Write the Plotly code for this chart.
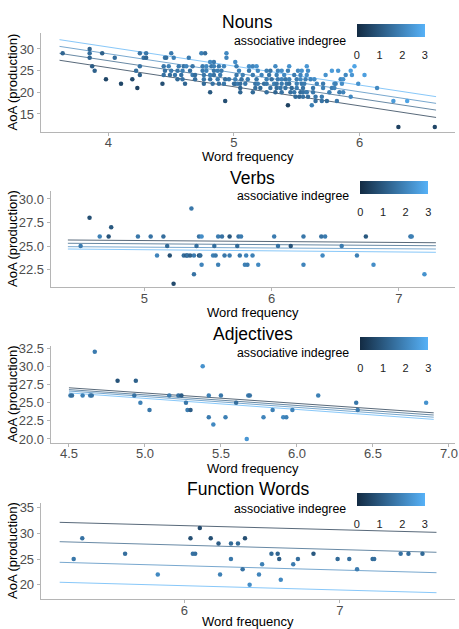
import plotly.graph_objects as go

# ---------------- data ----------------
# Nouns
nouns_freq = [3.85,
              3.635, 3.85, 3.95, 4.25, 4.30, 4.50, 4.74, 4.77, 4.94,
              3.85, 4.05, 4.28, 4.30, 4.45, 4.46, 4.52, 4.64, 4.94,
              4.81, 4.84, 5.01,
              3.87, 4.25, 4.44, 4.48, 4.56, 4.60, 4.62, 4.67, 4.75, 4.78, 4.82, 4.84, 4.88, 4.92, 5.02, 5.12, 5.15, 5.18, 5.33, 5.44, 5.58, 5.96,
              3.89, 4.22, 4.45, 4.50, 4.55, 4.59, 4.65, 4.75, 4.78, 4.84, 4.87, 4.90, 5.04, 5.12, 5.19, 5.26, 5.29, 5.35, 5.38, 5.43, 5.51, 5.54, 5.59, 5.78, 5.83, 5.93,
              4.25, 4.44, 4.49, 4.53, 4.58, 4.67, 4.69, 4.76, 4.81, 4.84, 4.89, 5.02, 5.07, 5.15, 5.22, 5.28, 5.34, 5.40, 5.48, 5.53, 5.58, 5.73, 5.89, 5.94, 6.04,
              3.98, 4.19, 4.55, 4.59, 4.69, 4.76, 4.81, 4.87, 4.93, 4.96, 5.01, 5.06, 5.11, 5.18, 5.26, 5.30, 5.35, 5.38, 5.41, 5.44, 5.50, 5.53, 5.57, 5.61, 5.64, 5.85, 5.87,
              4.10, 4.43, 4.61, 4.76, 4.83, 4.88, 4.92, 5.00, 5.01, 5.03, 5.05, 5.09, 5.17, 5.19, 5.24, 5.26, 5.32, 5.34, 5.38, 5.42, 5.44, 5.50, 5.54, 5.56, 5.66, 5.71, 5.80, 5.81, 5.86, 5.99,
              4.23, 5.05, 5.17, 5.21, 5.29, 5.34, 5.37, 5.41, 5.46, 5.50, 5.55, 5.63, 5.71, 5.78, 5.80, 6.14,
              4.81, 5.05, 5.15, 5.26, 5.33, 5.38, 5.45, 5.48, 5.53, 5.55, 5.58, 5.63, 5.76, 5.84, 5.87,
              5.49, 5.52, 5.55, 5.59, 5.65, 5.70, 5.93,
              4.93, 5.65, 5.70, 5.74, 5.82, 6.27, 6.38,
              5.43, 5.62,
              6.31, 6.60]
nouns_aoa = [30,
             29, 29, 29, 29, 29, 29, 29, 29, 29,
             28, 28, 28, 28, 28, 28, 28, 28, 28,
             27, 27, 27,
             26, 26, 26, 26, 26, 26, 26, 26, 26, 26, 26, 26, 26, 26, 26, 26, 26, 26, 26, 26, 26, 26,
             25, 25, 25, 25, 25, 25, 25, 25, 25, 25, 25, 25, 25, 25, 25, 25, 25, 25, 25, 25, 25, 25, 25, 25, 25, 25,
             24, 24, 24, 24, 24, 24, 24, 24, 24, 24, 24, 24, 24, 24, 24, 24, 24, 24, 24, 24, 24, 24, 24, 24, 24,
             23, 23, 23, 23, 23, 23, 23, 23, 23, 23, 23, 23, 23, 23, 23, 23, 23, 23, 23, 23, 23, 23, 23, 23, 23, 23, 23,
             22, 22, 22, 22, 22, 22, 22, 22, 22, 22, 22, 22, 22, 22, 22, 22, 22, 22, 22, 22, 22, 22, 22, 22, 22, 22, 22, 22, 22, 22,
             21, 21, 21, 21, 21, 21, 21, 21, 21, 21, 21, 21, 21, 21, 21, 21,
             20, 20, 20, 20, 20, 20, 20, 20, 20, 20, 20, 20, 20, 20, 20,
             19, 19, 19, 19, 19, 19, 19,
             18, 18, 18, 18, 18, 18, 18,
             17, 17,
             12, 12]
nouns_indeg = [1.3,
               1.3, 1.5, 1.2, 1.6, 1.7, 1.8, 1.9, 1.5, 2.1,
               1.3, 1.5, 1.6, 1.3, 1.7, 1.5, 1.9, 1.8, 2.0,
               2.1, 1.8, 2.2,
               1.1, 1.6, 1.7, 1.9, 1.8, 1.6, 2.0, 1.7, 1.8, 2.1, 1.7, 1.9, 1.8, 2.0, 1.9, 2.2, 2.0, 2.3, 2.1, 2.3, 2.4, 2.7,
               1.2, 1.5, 1.6, 1.8, 1.7, 1.9, 1.6, 1.8, 2.0, 1.7, 1.9, 1.8, 2.0, 1.8, 2.1, 1.9, 1.7, 2.0, 2.2, 1.9, 2.1, 2.3, 2.2, 2.5, 2.4, 2.6,
               1.2, 1.6, 1.5, 1.7, 1.6, 1.8, 1.5, 1.7, 1.9, 1.6, 1.8, 1.7, 1.9, 1.8, 2.0, 1.7, 1.9, 2.1, 1.8, 2.0, 2.2, 2.3, 2.1, 2.4, 2.6,
               0.6, 0.7, 1.4, 1.6, 1.5, 1.7, 1.6, 1.8, 1.5, 1.7, 1.9, 1.6, 1.8, 1.7, 1.9, 1.6, 1.8, 2.0, 1.7, 1.9, 1.8, 2.1, 1.9, 2.0, 2.2, 2.1, 2.3,
               0.6, 0.8, 1.3, 1.4, 1.6, 1.5, 1.7, 1.6, 1.4, 1.8, 1.5, 1.7, 1.6, 1.8, 1.5, 1.7, 1.9, 1.6, 1.8, 1.7, 1.5, 1.9, 1.7, 1.8, 2.0, 1.8, 2.1, 1.9, 2.2, 2.3,
               0.5, 1.3, 1.5, 1.4, 1.6, 1.5, 1.7, 1.6, 1.4, 1.8, 1.6, 1.7, 1.9, 1.8, 2.0, 2.1,
               1.0, 1.3, 1.4, 1.5, 1.3, 1.6, 1.5, 1.7, 1.4, 1.6, 1.8, 1.7, 1.9, 1.8, 2.0,
               1.4, 1.3, 1.6, 1.5, 1.7, 1.8, 2.1,
               0.8, 1.5, 1.6, 1.4, 1.7, 2.5, 2.7,
               0.5, 1.9,
               0.5, 0.6]
nouns_line_freq = [3.61, 6.61]
nouns_fit = {0: [27.4, 14.2], 1: [29.0, 15.9], 2: [30.6, 17.45], 3: [32.15, 19.0]}

# Verbs
verbs_freq = [4.50, 4.57, 4.65, 4.72, 4.74, 4.95, 5.05, 5.15, 5.10, 5.18, 5.20, 5.23,
              5.31, 5.33, 5.34, 5.36, 5.37, 5.39, 5.39, 5.41, 5.43, 5.45, 5.43, 5.44, 5.45,
              5.55, 5.54, 5.56, 5.58, 5.61, 5.58, 5.63, 5.67, 5.67, 5.73, 5.74, 5.76, 5.75,
              5.79, 5.81, 5.80, 5.85, 5.895, 6.02, 6.05, 6.15, 6.25, 6.25, 6.39, 6.42, 6.40,
              6.55, 6.67, 6.74, 6.80, 7.09, 7.10, 7.20]
verbs_aoa = [25, 28, 26, 26, 27, 26, 26, 26, 24, 25, 24, 21,
             24, 24, 24, 24, 29, 24, 22, 25, 26, 26, 24, 24, 23,
             25, 24, 24, 26, 26, 23, 24, 26, 24, 25, 26, 26, 24,
             23, 23, 24, 24, 23, 26, 25, 25, 26, 23, 26, 26, 24,
             25, 24, 26, 23, 26, 26, 22]
verbs_indeg = [1.8, 0.8, 1.9, 0.9, 1.0, 1.7, 1.6, 1.5, 2.0, 1.4, 0.8, 0.7,
               1.5, 1.1, 1.6, 1.2, 1.7, 1.8, 1.6, 1.5, 1.6, 2.2, 0.9, 1.4, 2.0,
               1.5, 1.9, 1.7, 1.8, 1.6, 1.9, 1.7, 1.0, 1.8, 1.4, 1.6, 1.8, 1.7,
               1.9, 1.8, 2.0, 1.9, 2.1, 1.8, 1.6, 0.9, 1.7, 2.0, 1.6, 1.8, 2.1,
               1.8, 1.9, 1.0, 2.2, 1.7, 1.9, 2.3]
verbs_line_freq = [4.40, 7.29]
verbs_fit = {0: [25.64, 25.35], 1: [25.29, 25.03], 2: [24.93, 24.68], 3: [24.68, 24.33]}

# Adjectives
adj_freq = [4.51, 4.52, 4.59, 4.64, 4.65, 4.67, 4.82, 4.93, 4.94, 4.97, 5.03, 5.16,
            5.22, 5.24, 5.27, 5.28, 5.30, 5.38, 5.42, 5.42, 5.45, 5.50, 5.53, 5.60,
            5.67, 5.68, 5.69, 5.78, 5.84, 5.91, 5.93, 5.97, 6.14, 6.39, 6.40, 6.85]
adj_aoa = [26, 26, 26, 26, 26, 32, 28, 26, 28, 25, 24, 26,
           26, 26, 25, 24, 24, 30, 26, 23, 22, 26, 23, 25,
           20, 26, 26, 23, 24, 23, 23, 24, 26, 25, 24, 25]
adj_indeg = [1.7, 1.5, 1.9, 1.8, 1.6, 1.8, 0.9, 1.6, 1.2, 1.9, 1.7, 1.8,
             1.6, 1.1, 1.7, 1.8, 1.1, 2.3, 1.9, 1.8, 2.1, 1.7, 1.9, 1.5,
             2.4, 1.8, 1.6, 2.0, 1.9, 2.1, 1.9, 2.0, 1.9, 1.7, 1.8, 2.3]
adj_line_freq = [4.50, 6.90]
adj_fit = {0: [27.05, 23.6], 1: [26.8, 23.3], 2: [26.6, 23.0], 3: [26.35, 22.7]}

# Function words
func_freq = [5.29, 5.345, 5.62, 5.83, 6.04, 6.055, 6.07, 6.10, 6.17, 6.22, 6.23,
             6.30, 6.30, 6.345, 6.375, 6.39, 6.42, 6.48, 6.50, 6.56, 6.60, 6.61,
             6.62, 6.70, 6.73, 6.83, 6.985, 7.06, 7.11, 7.21, 7.22, 7.39, 7.44, 7.53]
func_aoa = [25, 29, 26, 22, 29, 26, 26, 31, 29, 28, 22,
            28, 25, 28, 23, 29, 20, 22, 24, 26, 26, 25,
            21, 24, 25, 26, 25, 25, 23, 25, 25, 26, 26, 26]
func_indeg = [1.7, 1.6, 1.5, 2.1, 0.8, 1.6, 1.5, 0.7, 0.8, 1.1, 1.9,
              1.4, 1.7, 1.4, 1.6, 0.8, 2.2, 2.0, 1.9, 1.4, 1.3, 1.1,
              2.1, 1.8, 1.5, 1.0, 1.4, 1.5, 1.8, 1.4, 1.5, 1.6, 1.5, 1.4]
func_line_freq = [5.20, 7.62]
func_fit = {0: [32.1, 30.16], 1: [28.35, 26.3], 2: [24.36, 22.35], 3: [20.5, 18.48]}

indeg_levels = [0, 1, 2, 3]

# ---------------- styling ----------------
LOW, HIGH = "#132B43", "#56B1F7"
SCALE = [[0, LOW], [1, HIGH]]
W, H = 459, 629
FONT = "Liberation Sans, Arial, sans-serif"


def lvl_color(v):
    a = tuple(int(LOW[i:i + 2], 16) for i in (1, 3, 5))
    b = tuple(int(HIGH[i:i + 2], 16) for i in (1, 3, 5))
    t = v / 3.0
    return "rgb(%d,%d,%d)" % tuple(round(a[k] + (b[k] - a[k]) * t) for k in range(3))


def px(x):
    return x / W


def py(y):
    return 1 - y / H


panels = [
    dict(title="Nouns", freq=nouns_freq, aoa=nouns_aoa, ind=nouns_indeg,
         lx=nouns_line_freq, fit=nouns_fit,
         xl=40.7, top=33.3, bot=131.7, xr=[3.46, 6.761], yr=[10.91, 33.62],
         xt=[4, 5, 6], xtt=["4", "5", "6"], yt=[15, 20, 25, 30], ytt=["15", "20", "25", "30"],
         ty=22, xty=157, cbx=390.9, cby=24.3, lty=41, ltr=347.7),
    dict(title="Verbs", freq=verbs_freq, aoa=verbs_aoa, ind=verbs_indeg,
         lx=verbs_line_freq, fit=verbs_fit,
         xl=50.7, top=190.7, bot=287.3, xr=[4.265, 7.44], yr=[20.61, 30.88],
         xt=[5, 6, 7], xtt=["5", "6", "7"], yt=[22.5, 25, 27.5, 30],
         ytt=["22.5", "25.0", "27.5", "30.0"],
         ty=178.3, xty=312.5, cbx=394.3, cby=181, lty=196, ltr=351),
    dict(title="Adjectives", freq=adj_freq, aoa=adj_aoa, ind=adj_indeg,
         lx=adj_line_freq, fit=adj_fit,
         xl=50.7, top=346, bot=442.7, xr=[4.38, 7.04], yr=[19.49, 32.8],
         xt=[4.5, 5, 5.5, 6, 6.5, 7], xtt=["4.5", "5.0", "5.5", "6.0", "6.5", "7.0"],
         yt=[20, 22.5, 25, 27.5, 30, 32.5], ytt=["20.0", "22.5", "25.0", "27.5", "30.0", "32.5"],
         ty=334, xty=468, cbx=394.3, cby=336.7, lty=353.3, ltr=350.7),
    dict(title="Function Words", freq=func_freq, aoa=func_aoa, ind=func_indeg,
         lx=func_line_freq, fit=func_fit,
         xl=40.7, top=502.7, bot=599.3, xr=[5.078, 7.739], yr=[17.2, 35.9],
         xt=[6, 7], xtt=["6", "7"], yt=[20, 25, 30, 35], ytt=["20", "25", "30", "35"],
         ty=489.3, xty=621.5, cbx=390.9, cby=492.7, lty=509, ltr=348.3),
]

fig = go.Figure()
layout = dict(width=W, height=H, autosize=False, margin=dict(l=0, r=0, t=0, b=0, pad=0),
              paper_bgcolor="white", plot_bgcolor="white", showlegend=False,
              font=dict(family=FONT, color="black"), annotations=[])
XR = 455

for i, p in enumerate(panels, start=1):
    sfx = "" if i == 1 else str(i)
    xa, ya, ca = "x" + sfx, "y" + sfx, "coloraxis" + sfx
    # regression lines per indegree level
    for lv in indeg_levels:
        fig.add_trace(go.Scatter(x=p["lx"], y=p["fit"][lv], mode="lines", xaxis=xa, yaxis=ya,
                                 line=dict(color=lvl_color(lv), width=1), opacity=0.7,
                                 hoverinfo="skip"))
    fig.add_trace(go.Scatter(x=p["freq"], y=p["aoa"], mode="markers", xaxis=xa, yaxis=ya,
                             marker=dict(size=4.5, color=p["ind"], coloraxis=ca, line=dict(width=0))))
    axis_common = dict(showgrid=False, zeroline=False, showline=True, linecolor="#b5b5b5",
                       linewidth=1, ticks="outside", ticklen=3, tickcolor="#b5b5b5",
                       automargin=False, ticklabeloverflow="allow",
                       tickfont=dict(size=13, color="#4d4d4d", family=FONT))
    layout["xaxis" + sfx] = dict(axis_common, domain=[px(p["xl"]), px(XR)], range=p["xr"],
                                 anchor=ya, tickvals=p["xt"], ticktext=p["xtt"],
                                 ticklabelstandoff=-4)
    layout["yaxis" + sfx] = dict(axis_common, domain=[py(p["bot"]), py(p["top"])], range=p["yr"],
                                 anchor=xa, tickvals=p["yt"], ticktext=p["ytt"])
    layout[ca] = dict(colorscale=SCALE, cmin=0, cmax=3,
                      colorbar=dict(orientation="h", x=px(p["cbx"]), xanchor="center",
                                    y=py(p["cby"]), yanchor="top", lenmode="pixels", len=68,
                                    thicknessmode="pixels", thickness=13, xpad=0, ypad=0,
                                    outlinewidth=0, tickvals=[0, 1, 2, 3],
                                    ticks="outside", ticklen=9, tickcolor="white",
                                    tickfont=dict(size=11, color="#222222", family=FONT)))
    cx = px((p["xl"] + XR) / 2)
    layout["annotations"] += [
        dict(text=p["title"], x=cx, y=py(p["ty"]), xref="paper", yref="paper",
             xanchor="center", yanchor="middle", showarrow=False,
             font=dict(size=17.5, color="black", family=FONT)),
        dict(text="Word frequency", x=cx, y=py(p["xty"]), xref="paper", yref="paper",
             xanchor="center", yanchor="middle", showarrow=False,
             font=dict(size=13, color="black", family=FONT)),
        dict(text="AoA (production)", x=px(12), y=py((p["top"] + p["bot"]) / 2),
             xref="paper", yref="paper", xanchor="center", yanchor="middle",
             textangle=-90, showarrow=False, font=dict(size=13, color="black", family=FONT)),
        dict(text="associative indegree", x=px(p["ltr"]), y=py(p["lty"]), xref="paper",
             yref="paper", xanchor="right", yanchor="middle", showarrow=False,
             font=dict(size=12.3, color="black", family=FONT)),
    ]

fig.update_layout(**layout)
fig.write_html("out.html", config={"displayModeBar": False},
               post_script="document.body.style.margin='0';")
